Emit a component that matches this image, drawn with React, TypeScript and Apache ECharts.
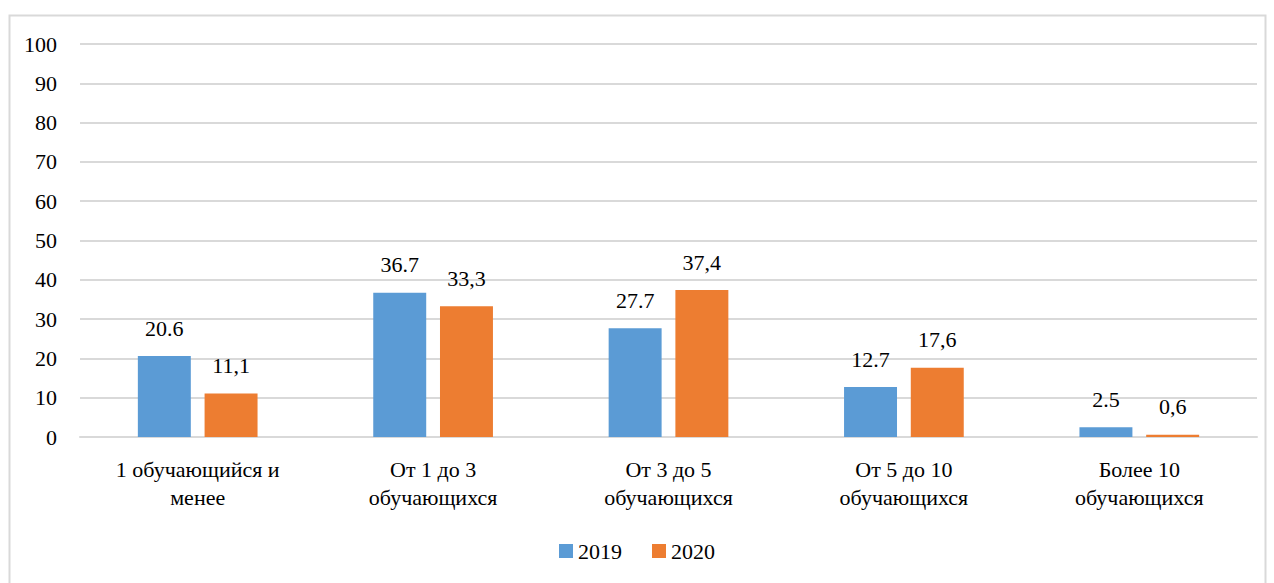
import React, { useEffect, useRef } from "react";
import * as echarts from "echarts";

const categories = [
  "1 обучающийся и\nменее",
  "От 1 до 3\nобучающихся",
  "От 3 до 5\nобучающихся",
  "От 5 до 10\nобучающихся",
  "Более 10\nобучающихся",
];
const values2019 = [20.6, 36.7, 27.7, 12.7, 2.5];
const values2020 = [11.1, 33.3, 37.4, 17.6, 0.6];
const seriesNames = ["2019", "2020"];
const colors = ["#5B9BD5", "#ED7D31"];

const FONT = "Liberation Serif, Times New Roman, DejaVu Serif, serif";

export default function App() {
  const ref = useRef<HTMLDivElement>(null);
  useEffect(() => {
    if (!ref.current) return;
    const chart = echarts.init(ref.current, undefined, { renderer: "svg" });
    chart.setOption({
      animation: false,
      textStyle: { fontFamily: FONT, fontSize: 22 },
      graphic: [
        {
          type: "rect",
          shape: { x: 9.5, y: 15.5, width: 1256, height: 600 },
          style: { fill: "none", stroke: "#d9d9d9", lineWidth: 2 },
          silent: true,
          z: -1,
        },
      ],
      grid: { left: 80, right: 17, top: 44, bottom: 146 },
      legend: {
        bottom: 16,
        left: "center",
        itemWidth: 14,
        itemHeight: 14,
        itemGap: 30,
        icon: "rect",
        textStyle: { fontFamily: FONT, fontSize: 22, color: "#000" },
        data: seriesNames,
      },
      xAxis: {
        type: "category",
        data: categories,
        axisLine: { show: true, lineStyle: { color: "#d9d9d9", width: 2 } },
        axisTick: { show: false },
        axisLabel: {
          fontFamily: FONT,
          fontSize: 22,
          color: "#000",
          margin: 18,
          lineHeight: 28,
          interval: 0,
        },
      },
      yAxis: {
        type: "value",
        min: 0,
        max: 100,
        interval: 10,
        axisLine: { show: false },
        axisTick: { show: false },
        splitLine: { lineStyle: { color: "#d9d9d9", width: 2 } },
        axisLabel: { fontFamily: FONT, fontSize: 22, color: "#000", margin: 23 },
      },
      series: [
        {
          name: seriesNames[0],
          type: "bar",
          data: values2019,
          barWidth: "22.5%",
          barGap: "26%",
          itemStyle: { color: colors[0] },
          label: {
            show: true,
            position: "top",
            distance: 17,
            fontFamily: FONT,
            fontSize: 22,
            color: "#000",
            formatter: (p: any) => String(p.value),
          },
        },
        {
          name: seriesNames[1],
          type: "bar",
          data: values2020,
          barWidth: "22.5%",
          barGap: "26%",
          itemStyle: { color: colors[1] },
          label: {
            show: true,
            position: "top",
            distance: 17,
            fontFamily: FONT,
            fontSize: 22,
            color: "#000",
            formatter: (p: any) => String(p.value).replace(".", ","),
          },
        },
      ],
    });
    return () => chart.dispose();
  }, []);
  return (
    <div
      ref={ref}
      style={{
        position: "fixed",
        left: 0,
        top: 0,
        width: 1274,
        height: 583,
        background: "#fff",
      }}
    />
  );
}
